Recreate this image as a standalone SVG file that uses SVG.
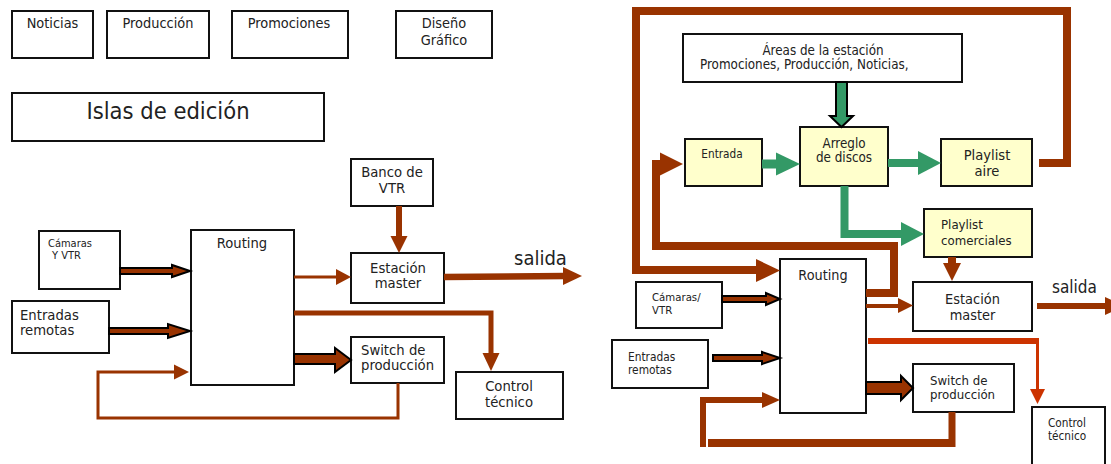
<svg xmlns="http://www.w3.org/2000/svg" width="1111" height="464" viewBox="0 0 1111 464">
<style>
.box{fill:#fff;stroke:#111;stroke-width:2}
.ybox{fill:#ffffcc;stroke:#111;stroke-width:2}
text{font-family:"DejaVu Sans Condensed","DejaVu Sans",Verdana,sans-serif;fill:#222}
.c{text-anchor:middle}
.bl{fill:none;stroke:#993300;stroke-linejoin:miter;stroke-linecap:butt}
.bh{fill:#993300;stroke:none}
.gl{fill:none;stroke:#339966}
.gh{fill:#339966;stroke:none}
.rl{fill:none;stroke:#cc3300}
.rh{fill:#cc3300;stroke:none}
.ob{fill:#993300;stroke:#000;stroke-width:2;stroke-linejoin:miter}
.og{fill:#339966;stroke:#000;stroke-width:2;stroke-linejoin:miter}
</style>

<!-- Left: top boxes -->
<g id="noticias"><rect class="box" x="12" y="11" width="81" height="47"/><text class="c" x="52.5" y="28" font-size="14.4">Noticias</text></g>
<g id="produccion"><rect class="box" x="107" y="11" width="102" height="47"/><text class="c" x="158" y="28" font-size="14.4">Producción</text></g>
<g id="promociones"><rect class="box" x="232" y="11" width="116" height="47"/><text class="c" x="289" y="28" font-size="14.4">Promociones</text></g>
<g id="diseno"><rect class="box" x="396" y="11" width="96" height="47"/><text class="c" x="444" y="28" font-size="14.4">Diseño</text><text class="c" x="444" y="45" font-size="14.4">Gráfico</text></g>
<g id="islas"><rect class="box" x="12" y="93" width="312" height="48"/><text class="c" x="168" y="119" font-size="23.5">Islas de edición</text></g>

<!-- Left diagram nodes -->
<g id="camaras-l"><rect class="box" x="39" y="231" width="81" height="58"/><text x="48" y="246.5" font-size="11">Cámaras</text><text x="52" y="259" font-size="11">Y VTR</text></g>
<g id="entradas-l"><rect class="box" x="12" y="301" width="97" height="52"/><text x="20" y="320" font-size="14.7">Entradas</text><text x="20" y="335" font-size="14.7">remotas</text></g>
<g id="routing-l"><rect class="box" x="191" y="230" width="103" height="155"/><text class="c" x="242" y="248" font-size="14.6">Routing</text></g>
<g id="banco"><rect class="box" x="351" y="159" width="82" height="47"/><text class="c" x="392" y="177" font-size="14.7">Banco de</text><text class="c" x="392" y="193" font-size="14.7">VTR</text></g>
<g id="estacion-l"><rect class="box" x="351" y="253" width="93" height="50"/><text class="c" x="398" y="272.5" font-size="14.7">Estación</text><text class="c" x="398" y="287.5" font-size="14.7">master</text></g>
<g id="switch-l"><rect class="box" x="351" y="337" width="93" height="46"/><text x="361" y="355" font-size="14.7">Switch de</text><text x="361" y="370" font-size="14.7">producción</text></g>
<g id="control-l"><rect class="box" x="456" y="372" width="107" height="47"/><text class="c" x="509" y="390.5" font-size="14.7">Control</text><text class="c" x="509" y="406.5" font-size="14.7">técnico</text></g>
<g id="salida-l"><text x="514" y="265" font-size="20">salida</text></g>

<!-- Right diagram nodes -->
<g id="areas"><rect class="box" x="683" y="34" width="279" height="48"/><text class="c" x="823" y="55" font-size="13.3">Áreas de la estación</text><text x="700" y="69" font-size="13.3">Promociones, Producción,  Noticias,</text></g>
<g id="entrada"><rect class="ybox" x="685" y="139" width="77" height="47"/><text class="c" x="722" y="158" font-size="11.7">Entrada</text></g>
<g id="arreglo"><rect class="ybox" x="800" y="127" width="88" height="59"/><text class="c" x="844" y="148" font-size="13.3">Arreglo</text><text class="c" x="844" y="162" font-size="13.3">de discos</text></g>
<g id="playlist-aire"><rect class="ybox" x="941" y="139" width="91" height="47"/><text class="c" x="987" y="160" font-size="14.6">Playlist</text><text class="c" x="987" y="176" font-size="14.6">aire</text></g>
<g id="playlist-com"><rect class="ybox" x="924" y="209" width="108" height="48"/><text x="941" y="229" font-size="13.1">Playlist</text><text x="941" y="245" font-size="13.1">comerciales</text></g>
<g id="routing-r"><rect class="box" x="780" y="259" width="86" height="154"/><text class="c" x="823" y="280" font-size="14.3">Routing</text></g>
<g id="camaras-r"><rect class="box" x="636" y="282" width="86" height="46"/><text x="652" y="301" font-size="11.3">Cámaras/</text><text x="652" y="314" font-size="11.3">VTR</text></g>
<g id="entradas-r"><rect class="box" x="612" y="340" width="96" height="48"/><text x="628" y="361" font-size="11.8">Entradas</text><text x="628" y="373.5" font-size="11.8">remotas</text></g>
<g id="estacion-r"><rect class="box" x="913" y="282" width="119" height="49"/><text class="c" x="972.5" y="304" font-size="14.4">Estación</text><text class="c" x="972.5" y="320" font-size="14.4">master</text></g>
<g id="switch-r"><rect class="box" x="913" y="364" width="101" height="48"/><text x="930" y="385" font-size="13.1">Switch de</text><text x="930" y="399" font-size="13.1">producción</text></g>
<g id="control-r"><rect class="box" x="1032" y="407" width="73" height="70"/><text x="1048" y="427" font-size="11.7">Control</text><text x="1048" y="439.5" font-size="11.7">técnico</text></g>
<g id="salida-r"><text x="1052" y="293" font-size="17">salida</text></g>

<!-- Connectors -->
<g id="connectors">
  <!-- left -->
  <polygon class="ob" points="120,268 172,268 172,265 190,271 172,277 172,274 120,274"/>
  <polygon class="ob" points="109,328 168,328 168,324 190,331 168,338 168,334 109,334"/>
  <polygon class="ob" points="294,354 335,354 335,348 351,360 335,372 335,364 294,364"/>
  <path class="bl" stroke-width="6" d="M399,206 V238"/>
  <polygon class="bh" points="390.5,236 407.5,236 399,253"/>
  <path class="bl" stroke-width="3" d="M294,277 H338"/>
  <polygon class="bh" points="336,269 351,277 336,285"/>
  <path class="bl" stroke-width="6.5" d="M444,277 L565,276"/>
  <polygon class="bh" points="563,267 582,276 563,285"/>
  <path class="bl" stroke-width="5" d="M294,313 H491 V355"/>
  <polygon class="bh" points="482.5,353 499.5,353 491,371"/>
  <path class="bl" stroke-width="3" d="M398,383 V418 H98 V372 H176"/>
  <polygon class="bh" points="174,364.5 189,372 174,379.5"/>

  <!-- right: big brown loops -->
  <path class="bl" stroke-width="8" d="M1039,163 H1067 V11 H636 V270 H758"/>
  <polygon class="bh" points="756,259 780,270.5 756,282"/>
  <path class="bl" stroke-width="8" d="M866,293 H894 V246 H656 V164 H662"/>
  <polygon class="bh" points="660,152.5 683,164 660,175.5"/>

  <!-- right: green -->
  <polygon class="og" points="836,82 836,116 830,116 841.5,127 853,116 847,116 847,82"/>
  <path class="gl" stroke-width="9" d="M762,164 H778"/>
  <polygon class="gh" points="776,152.5 800,164 776,175.5"/>
  <path class="gl" stroke-width="8" d="M888,163 H920"/>
  <polygon class="gh" points="918,151 941,163 918,175"/>
  <path class="gl" stroke-width="8" d="M844.5,186 V234 H903"/>
  <polygon class="gh" points="901,222 924,234 901,246"/>

  <!-- right: into / out of Estación -->
  <path class="bl" stroke-width="8" d="M952,257 V265"/>
  <polygon class="bh" points="943,263 961,263 952,281"/>
  <path class="bl" stroke-width="4" d="M866,306 H900"/>
  <polygon class="bh" points="898,298 913,305.5 898,313"/>
  <path class="bl" stroke-width="6" d="M1037,306 H1107"/>
  <polygon class="bh" points="1105,297 1125,306 1105,315"/>

  <!-- right: inputs -->
  <polygon class="ob" points="722,296 766,296 766,293 780,299 766,305 766,302 722,302"/>
  <polygon class="ob" points="713,355 762,355 762,352 780,358 762,364 762,361 713,361"/>
  <polygon class="ob" points="866,382 901,382 901,376 913,388 901,400 901,394 866,394"/>

  <!-- right: to Control técnico -->
  <path class="rl" stroke-width="6" d="M868,341 H1039"/>
  <path class="rl" stroke-width="3" d="M1037.5,341 V391"/>
  <polygon class="rh" points="1030,389 1045,389 1037.5,404"/>

  <!-- right: feedback -->
  <path class="bl" stroke-width="7" d="M952,412 V447"/>
  <path class="bl" stroke-width="8" d="M708,443 H955"/>
  <path class="bl" stroke-width="6" d="M703,447 V400 H764"/>
  <polygon class="bh" points="762,392 780,400 762,408"/>
</g>
</svg>
